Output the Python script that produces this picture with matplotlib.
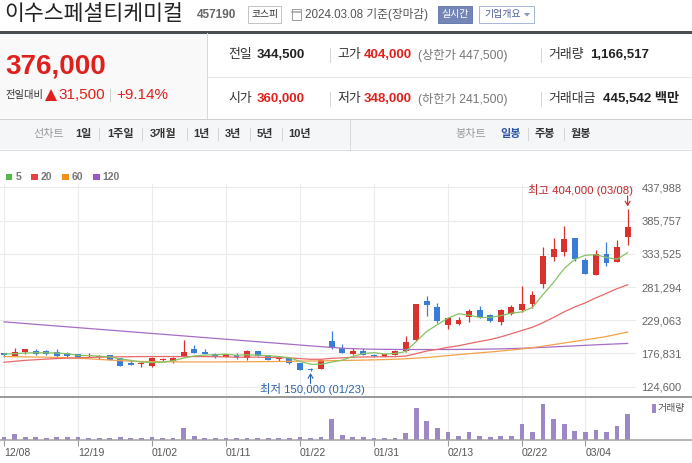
import matplotlib
matplotlib.use('Agg')
import matplotlib.pyplot as plt
from matplotlib.patches import Rectangle, Polygon
from matplotlib.lines import Line2D

plt.rcParams['font.family'] = ['Liberation Sans', 'Noto Sans CJK KR', 'DejaVu Sans']

# ---------------- data (prices in thousand won, volume in thousand shares) ----------------
opens = [176.5, 173.2, 179.0, 181.0, 180.5, 179.5, 176.8, 175.4, 173.0, 171.0,
         174.0, 170.0, 159.8, 159.5, 157.0, 166.0, 165.7, 172.6, 183.7, 178.5,
         176.3, 170.7, 174.5, 170.0, 180.5, 174.0, 167.5, 169.2, 161.4, 153.0,
         151.9, 196.2, 186.0, 176.0, 180.5, 173.5, 171.6, 175.2, 180.5, 197.7,
         258.9, 250.2, 221.3, 223.8, 233.5, 245.6, 236.9, 226.5, 238.1, 245.6,
         254.2, 286.6, 328.3, 336.8, 358.7, 324.2, 299.6, 333.6, 320.5, 360.0]
highs = [177.5, 185.7, 183.7, 183.7, 182.0, 183.7, 179.5, 175.4, 177.5, 174.6,
         174.0, 170.0, 166.0, 164.0, 171.7, 170.0, 170.5, 197.7, 190.0, 183.7,
         177.0, 176.0, 177.0, 182.0, 180.5, 174.5, 173.2, 169.2, 161.4, 154.0,
         167.0, 211.8, 191.5, 186.0, 186.0, 176.5, 175.8, 183.0, 204.6, 254.2,
         266.7, 255.4, 233.0, 234.0, 247.0, 251.8, 239.5, 246.5, 253.4, 282.4,
         274.5, 344.0, 358.7, 376.4, 358.7, 327.5, 338.8, 351.8, 354.5, 404.0]
lows = [171.5, 173.0, 176.3, 173.7, 173.7, 170.0, 170.0, 170.5, 171.7, 168.3,
        167.0, 157.5, 158.8, 156.0, 155.7, 164.7, 161.5, 172.6, 176.8, 176.4,
        170.0, 170.7, 167.5, 166.5, 173.2, 167.0, 165.7, 160.6, 150.8, 150.0,
        151.9, 183.7, 176.8, 174.5, 174.5, 171.6, 170.5, 174.0, 179.5, 197.0,
        235.9, 224.0, 214.5, 222.2, 225.6, 232.4, 226.5, 222.2, 237.0, 242.3,
        249.0, 280.3, 322.0, 329.4, 322.0, 301.0, 299.6, 314.0, 320.5, 348.0]
closes = [175.0, 179.0, 183.5, 175.4, 176.0, 173.5, 173.5, 170.5, 174.0, 172.0,
          167.0, 157.7, 159.3, 160.2, 169.3, 168.5, 170.3, 179.5, 176.8, 176.4,
          170.7, 175.4, 170.7, 180.5, 173.2, 167.0, 168.5, 161.9, 151.4, 150.5,
          166.7, 186.0, 176.8, 180.0, 174.5, 173.0, 175.8, 180.5, 195.2, 254.0,
          252.6, 228.0, 231.8, 229.5, 243.5, 234.1, 228.1, 245.6, 249.3, 253.9,
          269.3, 329.4, 341.5, 357.2, 325.8, 302.3, 333.6, 318.9, 344.5, 376.0]
volumes = [120, 254, 120, 120, 80, 150, 120, 120, 80, 80,
           80, 120, 80, 80, 120, 80, 80, 553, 195, 80,
           80, 80, 95, 95, 80, 80, 80, 80, 120, 80,
           150, 957, 240, 150, 120, 80, 80, 80, 330, 1451,
           868, 553, 374, 195, 374, 195, 120, 195, 195, 733,
           374, 1616, 957, 733, 419, 374, 464, 374, 643, 1167]
ma5 = [176.0, 176.5, 177.5, 178.0, 177.8, 177.5, 176.4, 173.8, 173.5, 172.7,
       171.4, 168.2, 166.0, 163.2, 162.7, 163.0, 165.5, 169.6, 172.9, 174.3,
       174.7, 175.8, 174.0, 174.7, 174.1, 173.4, 172.0, 170.2, 164.4, 159.9,
       159.8, 163.3, 166.3, 172.0, 176.8, 178.1, 176.0, 176.8, 179.8, 195.7,
       211.6, 222.1, 232.3, 239.2, 237.1, 233.4, 233.4, 236.2, 240.1, 242.2,
       249.2, 269.5, 288.7, 310.3, 324.6, 331.2, 332.1, 327.6, 325.0, 335.1]
ma20 = [163.0, 164.5, 166.0, 167.0, 168.0, 168.8, 169.5, 170.0, 170.5, 171.0,
        171.3, 171.6, 171.8, 172.0, 172.0, 172.0, 172.0, 171.9, 171.9, 171.9,
        171.7, 171.5, 170.8, 171.1, 171.0, 170.6, 170.4, 170.0, 168.8, 167.7,
        167.7, 169.1, 170.0, 171.0, 171.3, 171.5, 171.8, 171.8, 172.7, 176.6,
        180.7, 183.3, 186.4, 188.9, 192.4, 195.7, 198.7, 202.9, 207.8, 213.0,
        218.1, 225.3, 233.5, 242.3, 249.9, 256.4, 264.3, 271.2, 278.7, 284.8]
ma60 = [172.0, 171.8, 171.5, 171.2, 171.0, 170.5, 170.0, 169.3, 168.5, 167.5,
        166.5, 165.5, 164.8, 164.3, 164.0, 163.8, 163.6, 163.5, 163.5, 163.5,
        163.5, 163.6, 163.7, 163.8, 163.9, 164.0, 164.2, 164.4, 164.9, 165.0,
        165.2, 165.5, 165.8, 166.1, 166.4, 166.8, 167.2, 167.8, 168.5, 169.5,
        170.5, 172.0, 173.5, 175.0, 176.5, 177.8, 179.2, 180.7, 182.3, 184.0,
        186.0, 188.3, 190.8, 193.3, 195.8, 198.3, 200.8, 203.5, 207.0, 210.5]
ma120 = [226.5, 225.2, 223.9, 222.6, 221.3, 220.0, 218.7, 217.4, 216.1, 214.8,
         213.5, 212.2, 210.9, 209.6, 208.3, 207.0, 205.7, 204.4, 203.1, 201.8,
         200.5, 199.2, 197.9, 196.6, 195.3, 194.0, 192.7, 191.4, 190.1, 188.8,
         187.5, 186.3, 185.2, 184.4, 183.9, 183.5, 183.3, 183.2, 183.1, 183.0,
         183.0, 183.0, 183.1, 183.2, 183.3, 183.5, 183.8, 184.1, 184.5, 185.0,
         185.7, 186.4, 187.2, 188.0, 188.8, 189.6, 190.4, 191.2, 191.9, 192.6]
price_ticks = [124.600, 176.831, 229.063, 281.294, 333.525, 385.757, 437.988]
price_tick_labels = ['124,600', '176,831', '229,063', '281,294', '333,525', '385,757', '437,988']
date_tick_pos = [0, 7, 14, 21, 28, 35, 42, 49, 55]
date_tick_labels = ['12/08', '12/19', '01/02', '01/11', '01/22', '01/31', '02/13', '02/22', '03/04']
high_idx, low_idx = 59, 29

# ---------------- figure helpers (pixel coordinates, origin top-left) ----------------
W, H = 692, 463
fig = plt.figure(figsize=(W / 100, H / 100), dpi=100)
fig.patch.set_facecolor('white')


def fx(x):
    return x / W


def fy(y):
    return 1 - y / H


def text(x, y, s, size, color='#333333', weight='normal', ha='left', va='center'):
    fig.text(fx(x), fy(y), s, fontsize=size, color=color, fontweight=weight, ha=ha, va=va)


def rect(x0, y0, x1, y1, fc='none', ec='none', lw=1.0):
    fig.add_artist(Rectangle((fx(x0), fy(y1)), (x1 - x0) / W, (y1 - y0) / H,
                             transform=fig.transFigure, facecolor=fc, edgecolor=ec,
                             linewidth=lw * 0.72))


def hline(x0, x1, y, color, lw=1.0):
    fig.add_artist(Line2D([fx(x0), fx(x1)], [fy(y), fy(y)], transform=fig.transFigure,
                          color=color, linewidth=lw * 0.72))


def vline(x, y0, y1, color, lw=1.0):
    fig.add_artist(Line2D([fx(x), fx(x)], [fy(y0), fy(y1)], transform=fig.transFigure,
                          color=color, linewidth=lw * 0.72))


RED = '#e0201c'
# ---------------- header ----------------
text(4, 14, '이수스페셜티케미컬', 15.6, '#222222')
text(197, 15, '457190', 8.5, '#666666', 'bold')
rect(248, 6, 281, 23, fc='white', ec='#c4c4c4')
text(264.5, 14.5, '코스피', 7, '#333333', ha='center')
rect(292, 9, 301, 20, fc='white', ec='#a0a0a0')
hline(292, 301, 11.5, '#a0a0a0', 1.5)
text(305, 14.5, '2024.03.08 기준(장마감)', 8.4, '#555555')
rect(438, 6, 472, 23, fc='#7386b5', ec='#6a7db0')
text(455, 14.5, '실시간', 7.2, 'white', ha='center')
rect(479, 6, 534, 23, fc='white', ec='#aab8d8')
text(484, 14.5, '기업개요', 7.2, '#4b5e99')
fig.add_artist(Polygon([[fx(524), fy(13)], [fx(530), fy(13)], [fx(527), fy(16.5)]],
                       closed=True, transform=fig.transFigure, facecolor='#8593b8',
                       edgecolor='none'))

hline(0, W, 31.5, '#4a4d52', 3)
rect(0, 33, 207, 118, fc='#f9f9f9')
vline(207, 33, 118, '#d8d8d8')
hline(207, W, 77, '#e6e6e6')
hline(0, W, 118.5, '#cfcfcf')

text(5, 66, '376,000', 20, RED, 'bold')
text(5, 95, '전일대비', 7.4, '#333333')
fig.add_artist(Polygon([[fx(45), fy(101)], [fx(57), fy(101)], [fx(51), fy(89)]],
                       closed=True, transform=fig.transFigure, facecolor=RED, edgecolor='none'))
text(58, 95, '31,500', 11, RED)
vline(110, 89, 101, '#cccccc')
text(116, 95, '+9.14%', 11, RED)

row1, row2 = 55, 99
text(228, row1, '전일', 9.3, '#333333')
text(257, row1, '344,500', 9.5, '#222222', 'bold')
vline(330, row1 - 7, row1 + 7, '#d5d5d5')
text(337, row1, '고가', 9.3, '#333333')
text(364, row1, '404,000', 9.5, RED, 'bold')
text(418, row1, '(상한가 447,500)', 8.8, '#777777')
vline(541, row1 - 7, row1 + 7, '#d5d5d5')
text(548, row1, '거래량', 9.3, '#333333')
text(590, row1, '1,166,517', 9.5, '#222222', 'bold')

text(228, row2, '시가', 9.3, '#333333')
text(257, row2, '360,000', 9.5, RED, 'bold')
vline(330, row2 - 7, row2 + 7, '#d5d5d5')
text(337, row2, '저가', 9.3, '#333333')
text(364, row2, '348,000', 9.5, RED, 'bold')
text(418, row2, '(하한가 241,500)', 8.8, '#777777')
vline(541, row2 - 7, row2 + 7, '#d5d5d5')
text(548, row2, '거래대금', 9.3, '#333333')
text(603, row2, '445,542 백만', 9.5, '#222222', 'bold')

# ---------------- toolbar ----------------
rect(0, 119, W, 149, fc='#f5f6f8')
hline(0, W, 149.5, '#d9d9d9')
vline(350, 119, 149, '#d9d9d9')
ty = 134
text(33, ty, '선차트', 8, '#999999')
items = [(75, '1일'), (107, '1주일'), (150, '3개월'), (193, '1년'), (225, '3년'), (257, '5년'), (288, '10년')]
for x, s in items:
    text(x, ty, s, 8, '#333333', 'bold')
for x in [99, 142, 187, 218, 250, 282]:
    vline(x, ty - 6, ty + 6, '#d5d5d5')
text(455, ty, '봉차트', 8, '#999999')
text(500, ty, '일봉', 8, '#2d55a5', 'bold')
vline(528, ty - 6, ty + 6, '#d5d5d5')
text(535, ty, '주봉', 8, '#333333', 'bold')
vline(564, ty - 6, ty + 6, '#d5d5d5')
text(571, ty, '월봉', 8, '#333333', 'bold')

# ---------------- MA legend ----------------
ly = 177
for x0, col, lab in [(6, '#52b848', '5'), (31, '#e84142', '20'),
                     (62, '#f39019', '60'), (93, '#9a58c4', '120')]:
    rect(x0, ly - 3.5, x0 + 6.5, ly + 3, fc=col)
    text(x0 + 9.5, ly, lab, 7.5, '#777777', 'bold')

# ---------------- price chart ----------------
PX0, PX1 = 0, 636
step = 10.57
x_first = 4
xlim = ((PX0 - x_first) / step, (PX1 - x_first) / step)
ppp = (price_ticks[-1] - price_ticks[0]) / (386.7 - 187.3)
top_px, bot_px = 184, 397
ylim = (price_ticks[0] - (bot_px - 386.7) * ppp, price_ticks[-1] + (187.3 - top_px) * ppp)

ax = fig.add_axes([fx(PX0), fy(bot_px), (PX1 - PX0) / W, (bot_px - top_px) / H])
ax.set_xlim(*xlim)
ax.set_ylim(*ylim)
for sp in ax.spines.values():
    sp.set_visible(False)
ax.set_xticks(date_tick_pos)
ax.set_xticklabels([])
ax.set_yticks(price_ticks)
ax.set_yticklabels(price_tick_labels)
ax.yaxis.tick_right()
ax.tick_params(axis='both', length=0)
ax.tick_params(axis='y', pad=4, labelsize=8, labelcolor='#666666')
ax.grid(True, color='#ebebeb', linewidth=0.8)
ax.set_axisbelow(True)

CRED, CBLUE = '#d8312e', '#3a7dd6'
min_body = 1.3 * ppp
xs = list(range(len(closes)))
for i in xs:
    o, h, l, c = opens[i], highs[i], lows[i], closes[i]
    col = CRED if c >= o else CBLUE
    ax.vlines(i, l, h, color=col, linewidth=0.9, zorder=2)
    body = max(abs(c - o), min_body)
    ax.bar(i, body, bottom=min(o, c), width=0.56, color=col, linewidth=0, zorder=2)

ax.plot(xs, ma120, color='#a66dc6', linewidth=0.9, zorder=3)
ax.plot(xs, ma60, color='#f2a24a', linewidth=0.9, zorder=3)
ax.plot(xs, ma20, color='#e86868', linewidth=0.9, zorder=3)
ax.plot(xs, ma5, color='#84c463', linewidth=0.9, zorder=3)

# high / low markers
ax.annotate('', xy=(high_idx, highs[high_idx] + 2.5 * ppp), xytext=(high_idx, highs[high_idx] + 13 * ppp),
            arrowprops=dict(arrowstyle='->,head_length=0.3,head_width=0.18', color='#c0272d',
                            lw=0.8, shrinkA=0, shrinkB=0), annotation_clip=False)
text(633, 190, '최고 404,000 (03/08)', 8.2, '#c0272d', ha='right')
ax.annotate('', xy=(low_idx, lows[low_idx] - 2.5 * ppp), xytext=(low_idx, lows[low_idx] - 13 * ppp),
            arrowprops=dict(arrowstyle='->,head_length=0.3,head_width=0.18', color='#2b64ad',
                            lw=0.8, shrinkA=0, shrinkB=0), annotation_clip=False)
text(312, 389, '최저 150,000 (01/23)', 8.2, '#2b64ad', ha='center')

# ---------------- volume chart ----------------
vtop, vbot = 397, 440
vax = fig.add_axes([fx(PX0), fy(vbot), (PX1 - PX0) / W, (vbot - vtop) / H])
vax.set_xlim(*xlim)
vax.set_ylim(0, (vbot - vtop) * 45)
for sp in vax.spines.values():
    sp.set_visible(False)
vax.bar(xs, volumes, width=0.45, color='#9b88c4', linewidth=0, zorder=2)
vax.set_yticks([])
vax.set_xticks(date_tick_pos)
vax.set_xticklabels(date_tick_labels, ha='left')
vax.tick_params(axis='x', length=4, width=0.8, color='#999999', labelsize=7.5,
                labelcolor='#555555', pad=1.5)
vax.grid(True, axis='x', color='#ebebeb', linewidth=0.8)
vax.set_axisbelow(True)

hline(0, W, 397, '#9a9a9a', 2)
hline(0, W, 440, '#a0a0a0', 1.5)
rect(652, 404, 655.5, 413, fc='#9b88c4')
text(658, 408.5, '거래량', 7.2, '#555555')

fig.savefig('out.png', dpi=100, facecolor='white')
